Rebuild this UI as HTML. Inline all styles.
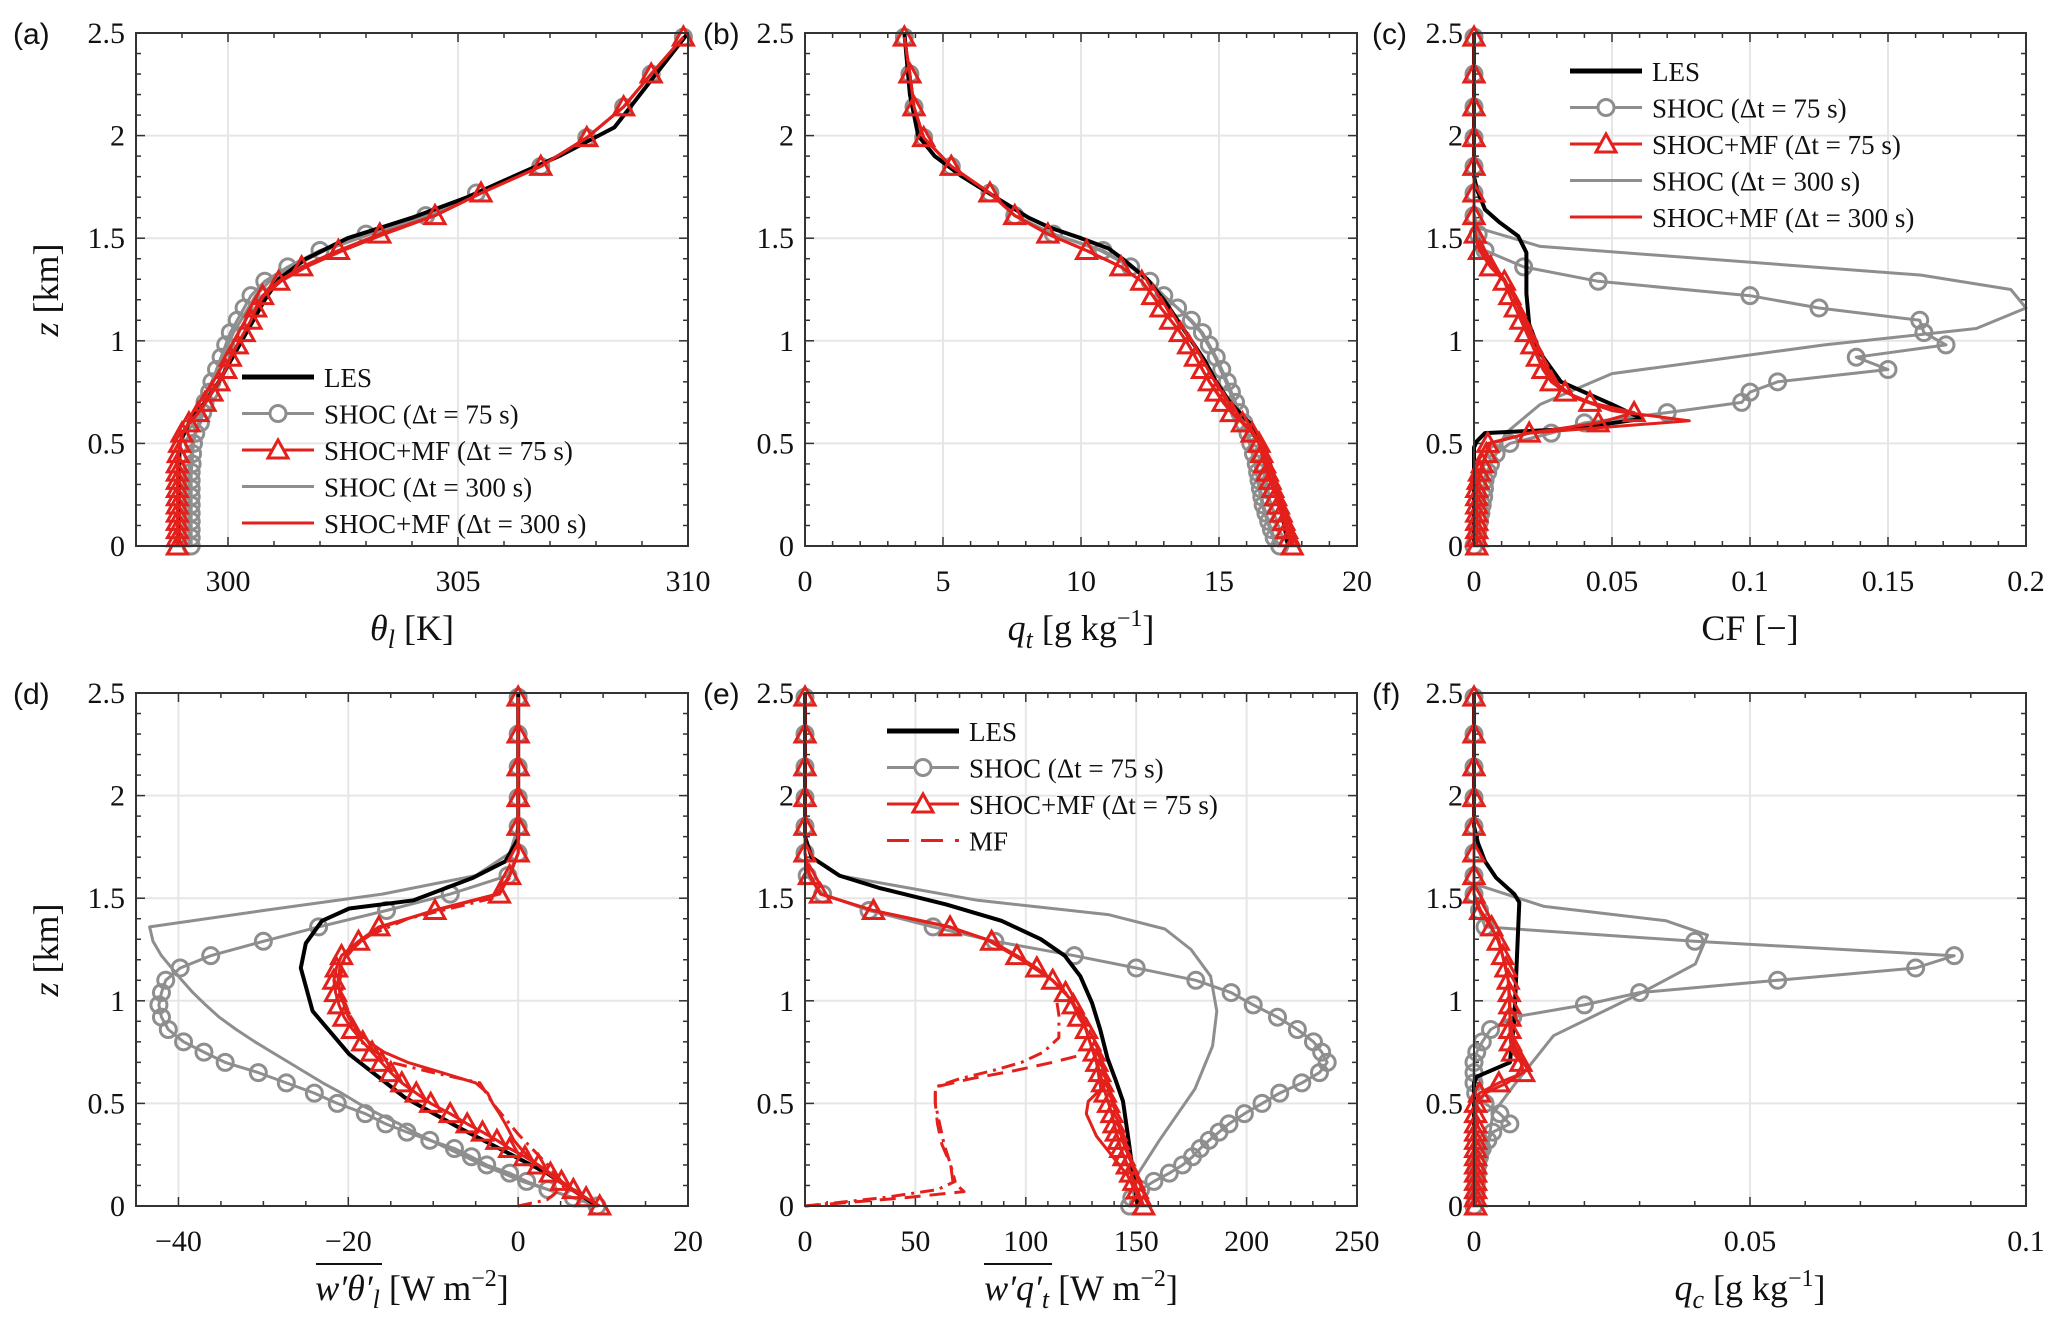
<!DOCTYPE html>
<html><head><meta charset="utf-8"><style>
html,body{margin:0;padding:0;background:#fff;}
svg{display:block;}
text{font-family:"Liberation Serif",serif;fill:#111;}
.tick{font-size:30px;}
.lab{font-size:36px;}
.leg{font-size:27px;}
.pl{font-family:"Liberation Sans",sans-serif;font-size:30px;}
</style></head><body>
<svg id="fig" width="2067" height="1333" viewBox="0 0 2067 1333" xmlns="http://www.w3.org/2000/svg"></svg>
<script>
// shared model vertical grid (km)
const zGrid=[0,0.04,0.08,0.12,0.16,0.2,0.24,0.28,0.32,0.36,0.4,0.45,0.5,0.55,0.6,0.65,0.7,0.75,0.8,0.86,0.92,0.98,1.04,1.1,1.16,1.22,1.29,1.36,1.44,1.52,1.61,1.72,1.85,1.99,2.14,2.3,2.48];

// (a) theta_l
const aMf75=[298.9,298.9,298.9,298.9,298.9,298.9,298.9,298.9,298.9,298.9,298.9,298.92,298.95,299.0,299.15,299.35,299.5,299.65,299.8,299.95,300.05,300.2,300.35,300.5,300.6,300.75,301.1,301.6,302.4,303.3,304.5,305.5,306.8,307.8,308.6,309.2,309.9];
const aShoc75=[299.2,299.2,299.2,299.2,299.2,299.2,299.2,299.2,299.2,299.2,299.22,299.23,299.25,299.3,299.4,299.45,299.5,299.6,299.65,299.75,299.85,299.95,300.05,300.2,300.35,300.5,300.8,301.3,302.0,303.0,304.3,305.4,306.8,307.8,308.6,309.2,309.9];
const aShoc300=[299.15,299.15,299.15,299.15,299.15,299.15,299.15,299.15,299.15,299.15,299.17,299.2,299.22,299.28,299.36,299.42,299.5,299.58,299.66,299.76,299.88,300.0,300.12,300.28,300.44,300.6,300.9,301.4,302.1,303.1,304.4,305.4,306.8,307.8,308.6,309.2,309.9];
const aMf300=[298.9,298.9,298.9,298.9,298.9,298.9,298.9,298.9,298.9,298.9,298.9,298.92,298.96,299.02,299.17,299.36,299.52,299.66,299.8,299.95,300.06,300.2,300.35,300.5,300.62,300.78,301.15,301.7,302.5,303.4,304.5,305.5,306.8,307.8,308.6,309.2,309.9];
const aLesZ=[0,0.5,0.6,0.7,0.8,0.9,1.0,1.1,1.2,1.3,1.4,1.5,1.6,1.7,1.8,1.9,2.04,2.5];
const aLesX=[298.9,298.95,299.15,299.5,299.8,300.05,300.3,300.55,300.8,301.1,301.7,302.6,304.0,305.2,306.2,307.2,308.4,310];

// (b) q_t
const bMf75=[17.65,17.55,17.45,17.35,17.25,17.15,17.05,16.95,16.85,16.75,16.65,16.55,16.45,16.2,15.85,15.45,15.15,14.9,14.65,14.4,14.15,13.9,13.6,13.25,12.9,12.6,12.2,11.45,10.2,8.8,7.6,6.7,5.3,4.3,3.95,3.8,3.6];
const bShoc75=[17.2,17.0,16.9,16.8,16.7,16.6,16.55,16.5,16.45,16.4,16.35,16.25,16.15,16.05,15.9,15.75,15.6,15.45,15.3,15.1,14.9,14.65,14.4,14.0,13.5,13.0,12.5,11.8,10.8,9.0,7.6,6.7,5.3,4.3,3.95,3.8,3.6];
const bShoc300=[17.1,16.95,16.85,16.75,16.65,16.57,16.5,16.45,16.4,16.35,16.3,16.2,16.1,16.0,15.85,15.7,15.55,15.4,15.25,15.05,14.85,14.6,14.35,13.95,13.5,13.0,12.5,11.8,10.7,9.0,7.6,6.7,5.3,4.3,3.95,3.8,3.6];
const bMf300=[17.7,17.6,17.5,17.4,17.3,17.2,17.1,17.0,16.9,16.8,16.7,16.6,16.5,16.25,15.9,15.5,15.2,14.92,14.66,14.4,14.15,13.9,13.6,13.25,12.9,12.6,12.2,11.45,10.2,8.8,7.6,6.7,5.3,4.3,3.95,3.8,3.6];
const bLesZ=[0,0.3,0.5,0.6,0.7,0.8,0.9,1.0,1.1,1.2,1.3,1.4,1.45,1.5,1.55,1.6,1.7,1.8,1.9,2.0,2.2,2.5];
const bLesX=[17.5,17.1,16.6,16.1,15.4,14.9,14.5,14.0,13.5,13.0,12.4,11.5,11.0,10.0,8.9,8.1,6.9,5.7,4.7,4.1,3.8,3.6];

// (c) cloud fraction
const cShoc75=[0,0.001,0.0015,0.002,0.0025,0.003,0.0035,0.0038,0.004,0.005,0.006,0.008,0.013,0.028,0.04,0.07,0.097,0.1,0.11,0.15,0.1385,0.171,0.163,0.1615,0.125,0.1,0.045,0.018,0.004,0.0015,0,0,0,0,0,0,0];
const cMf75=[0.001,0.001,0.001,0.001,0.001,0.001,0.001,0.001,0.0015,0.002,0.003,0.0045,0.005,0.02,0.045,0.058,0.042,0.033,0.028,0.025,0.023,0.021,0.019,0.017,0.015,0.013,0.011,0.006,0.002,0.0005,0,0,0,0,0,0,0];
const cShoc300Z=[0,0.34,0.55,0.69,0.84,0.98,1.06,1.16,1.25,1.32,1.46,1.55,1.62,2.5];
const cShoc300X=[0.001,0.004,0.0115,0.024,0.05,0.127,0.182,0.2,0.1945,0.162,0.024,0.0015,0,0];
const cMf300Z=[0,0.3,0.43,0.5,0.55,0.61,0.66,0.72,0.8,0.9,1.0,1.1,1.2,1.3,1.4,1.48,1.55,2.5];
const cMf300X=[0.001,0.001,0.004,0.006,0.02,0.078,0.05,0.037,0.029,0.024,0.021,0.018,0.015,0.011,0.005,0.001,0,0];
const cLesZ=[0,0.48,0.51,0.55,0.57,0.62,0.69,0.8,0.94,1.08,1.23,1.43,1.51,1.58,1.64,1.74,1.8,2.5];
const cLesX=[0,0,0.001,0.004,0.035,0.061,0.05,0.0315,0.024,0.02,0.019,0.019,0.016,0.009,0.004,0.001,0,0];

// (d) w'theta_l'
const dShoc75=[9.3,6.5,3.5,1,-1,-3.7,-5.5,-7.5,-10.4,-13.1,-15.6,-18,-21.3,-24,-27.3,-30.6,-34.5,-37,-39.4,-41.2,-42,-42.3,-42,-41.5,-39.8,-36.2,-30,-23.5,-15.5,-8,-1.2,0,0,0,0,0,0];
const dMf75=[9.6,8,6.5,5.1,3.8,2.4,0.8,-1,-2.5,-4.2,-6,-8,-10.3,-12,-13.7,-15,-16.1,-17.2,-18.3,-19.5,-20.5,-21.1,-21.5,-21.7,-21.4,-20.8,-18.8,-16.4,-9.8,-2.2,-1,0,0,0,0,0,0];
const dShoc300=[9.3,6.5,3.5,0.5,-1.8,-4.2,-6.2,-8.3,-10.3,-12.3,-14,-16.5,-18.8,-20.8,-23,-25,-27,-29,-31,-33.2,-35.2,-36.8,-38.3,-39.6,-40.8,-42,-43,-43.4,-30,-16,-5,-1,0,0,0,0,0];
const dMf300=[9.6,7.9,6.2,4.8,3.5,2.3,1.2,0.3,-0.5,-1,-1.5,-2.2,-3,-3.6,-5,-9,-13,-15.8,-17.6,-19,-20,-20.5,-21,-21.2,-21,-20.3,-18.5,-16,-10,-2.5,-1,0,0,0,0,0,0];
const dLesZ=[0,0.16,0.38,0.53,0.74,0.95,1.16,1.28,1.39,1.45,1.49,1.6,1.68,1.79,2.5];
const dLesX=[9.3,3.4,-6.9,-13.4,-19.9,-24.2,-25.6,-25,-23.1,-19.9,-12.3,-5.3,-1.5,0,0];
const dMfZ=[0,0.03,0.1,0.2,0.35,0.5,0.6,0.65,0.7,0.8,0.9,1.0,1.1,1.2,1.3,1.4,1.5,1.6];
const dMfX=[0,3.4,5.5,3.5,0,-3,-4.5,-10,-15,-18.5,-19.5,-20.5,-21,-20.5,-18.5,-13,-3,-1];

// (e) w'q_t'
const eShoc75=[147,148,152,158,165,171,175.5,179,183,187.5,192,199,207,215,225,233,236.5,234,230.3,223,214,203,193,177,150,122,86,58,29,8,1,0,0,0,0,0,0];
const eMf75=[153.4,152,150.5,149,147.5,146,144.5,143,142,141,140,139,137.5,136,134.8,133.5,132.2,131,129,127.5,124,121.5,118,112.2,105,96,84.5,65.7,31,7,2,0,0,0,0,0,0];
const eShoc300Z=[0,0.11,0.32,0.57,0.78,0.95,1.12,1.25,1.35,1.42,1.49,1.61,1.7,1.8,2.5];
const eShoc300X=[150.7,148,160.5,176.6,184.6,186.5,183.7,174.8,163,137.3,78.2,15.6,3,0,0];
const eMf300Z=[0,0.15,0.34,0.45,0.51,0.57,0.7,0.8,0.9,1.0,1.1,1.2,1.3,1.36,1.44,1.52,1.62,1.72,2.5];
const eMf300X=[153,146,132,127.4,128.3,134,132,129,126,121,112,98,82,65,31,7,2,0,0];
const eLesZ=[0,0.36,0.51,0.61,0.72,0.86,0.99,1.12,1.22,1.3,1.39,1.47,1.55,1.61,1.7,1.8,2.5];
const eLesX=[150.7,146,144,140.8,137,133.7,130,124.7,117.6,106.8,89,63.9,33.5,15.6,3,0,0];
const eMfDashZ=[0,0.04,0.07,0.12,0.2,0.3,0.4,0.5,0.58,0.62,0.66,0.7,0.73];
const eMfDashX=[0,45,72,67,66,62,60,59,59,75,95,112,123];
const eMfDotZ=[0,0.04,0.08,0.12,0.2,0.3,0.4,0.5,0.58,0.62,0.66,0.7,0.75,0.82,0.93,1.0];
const eMfDotX=[0,35,60,68,66,63,61,59,59,70,85,98,108,115,115,114];

// (f) q_c
const fShoc75=[0,0.0003,0.0005,0.0005,0.0006,0.0007,0.001,0.0015,0.0025,0.0034,0.0065,0.0047,0.002,0.0003,0,0,0,0.0005,0.0015,0.003,0.007,0.02,0.03,0.055,0.08,0.087,0.04,0.002,0.001,0,0,0,0,0,0,0,0];
const fMf75=[0.0003,0.0003,0.0003,0.0003,0.0003,0.0003,0.0003,0.0003,0.0003,0.0003,0.0003,0.0003,0.0003,0.001,0.0045,0.009,0.0085,0.007,0.0066,0.0065,0.0065,0.0065,0.0064,0.0062,0.0058,0.0052,0.0044,0.0032,0.0012,0,0,0,0,0,0,0,0];
const fShoc300Z=[0,0.29,0.45,0.59,0.83,1.04,1.18,1.32,1.39,1.46,1.57,2.5];
const fShoc300X=[0,0.0025,0.0034,0.0073,0.0144,0.0304,0.0401,0.0423,0.0348,0.0127,0,0];
const fMf300Z=[0,0.5,0.55,0.6,0.67,0.75,0.9,1.1,1.3,1.45,1.52,2.5];
const fMf300X=[0.0003,0.0003,0.002,0.006,0.01,0.0075,0.0066,0.0062,0.0045,0.0008,0,0];
const fLesZ=[0,0.6,0.63,0.7,0.91,1.23,1.48,1.52,1.6,1.68,1.77,1.85,2.5];
const fLesX=[0,0,0.0005,0.0065,0.0073,0.0078,0.0082,0.0073,0.004,0.002,0.0007,0,0];

// tick labels
const yTicks=[0,0.5,1,1.5,2,2.5];
const yTickLabels=["0","0.5","1","1.5","2","2.5"];
const aTicks=[300,305,310], aTickLabels=["300","305","310"];
const bTicks=[0,5,10,15,20], bTickLabels=["0","5","10","15","20"];
const cTicks=[0,0.05,0.1,0.15,0.2], cTickLabels=["0","0.05","0.1","0.15","0.2"];
const dTicks=[-40,-20,0,20], dTickLabels=["-40","-20","0","20"];
const eTicks=[0,50,100,150,200,250], eTickLabels=["0","50","100","150","200","250"];
const fTicks=[0,0.05,0.1], fTickLabels=["0","0.05","0.1"];

const NS="http://www.w3.org/2000/svg";
const svg=document.getElementById('fig');
const GRAY="#8e8e8e", RED="#e3201b", BLACK="#000";
function mk(tag,attrs,parent){const e=document.createElementNS(NS,tag);for(const k in attrs)e.setAttribute(k,attrs[k]);(parent||svg).appendChild(e);return e;}

function panel(name,L,T,xmin,xmax,xt,xtl,xminor,letter){
  const W=552,H=513;
  const g=mk('g',{});
  
  
  const sx=v=>L+(v-xmin)/(xmax-xmin)*W;
  const sy=v=>T+H-(v/2.5)*H;
  const grid=mk('g',{},g);
  
  
  xt.forEach(v=>{const x=sx(v);if(x>L+1&&x<L+W-1)mk('line',{x1:x,x2:x,y1:T,y2:T+H,stroke:'#e6e6e6','stroke-width':2},grid);});
  yTicks.forEach(v=>{const y=sy(v);if(y>T+1&&y<T+H-1)mk('line',{x1:L,x2:L+W,y1:y,y2:y,stroke:'#e6e6e6','stroke-width':2},grid);});
  const tk=mk('g',{stroke:'#333','stroke-width':1.5},g);
  
  
  for(let v=xmin;v<=xmax+1e-9;v+=xminor){const x=sx(v);const maj=xt.some(t=>Math.abs(t-v)<1e-9);const l=maj?9:5;
    mk('line',{x1:x,x2:x,y1:T+H,y2:T+H-l},tk);mk('line',{x1:x,x2:x,y1:T,y2:T+l},tk);}
  for(let v=0;v<=2.5+1e-9;v+=0.1){const y=sy(v);const maj=Math.abs(v*2-Math.round(v*2))<1e-6;const l=maj?9:5;
    mk('line',{x1:L,x2:L+l,y1:y,y2:y},tk);mk('line',{x1:L+W,x2:L+W-l,y1:y,y2:y},tk);}
  xt.forEach((v,i)=>{const t=mk('text',{x:sx(v),y:T+H+45,'text-anchor':'middle',class:'tick'},g);t.textContent=xtl[i].replace('-','\u2212');
    
    });
  yTicks.forEach((v,i)=>{const t=mk('text',{x:L-11,y:sy(v)+10,'text-anchor':'end',class:'tick'},g);t.textContent=yTickLabels[i];
    
    });
  const pl=mk('text',{x:(L<200?13:L-102),y:T+11,class:'pl'},g);
  pl.textContent='('+letter+')';
  
  
  const cp=mk('clipPath',{id:'clip-'+name},g);
  mk('rect',{x:L-14,y:T-14,width:W+28,height:H+28},cp);
  const plot=mk('g',{'clip-path':'url(#clip-'+name+')'},g);
  
  
  mk('rect',{x:L,y:T,width:W,height:H,fill:'none',stroke:'#333','stroke-width':2},g);
  return {g,plot,sx,sy,L,T,W,H};
}
function line(P,zs,xs,color,w,dash,nm){
  const pts=zs.map((z,i)=>P.sx(xs[i]).toFixed(1)+','+P.sy(z).toFixed(1)).join(' ');
  const a={points:pts,fill:'none',stroke:color,'stroke-width':w,'stroke-linejoin':'round'};
  if(dash)a['stroke-dasharray']=dash;
  const p=mk('polyline',a,P.plot);
  
  
}
function circles(P,zs,xs,nm){
  const g=mk('g',{},P.plot);
  
  
  zs.forEach((z,i)=>mk('circle',{cx:P.sx(xs[i]),cy:P.sy(z),r:8,fill:'none',stroke:GRAY,'stroke-width':3},g));
}
function tris(P,zs,xs,nm){
  const g=mk('g',{},P.plot);
  
  
  zs.forEach((z,i)=>{const x=P.sx(xs[i]),y=P.sy(z);
    mk('polygon',{points:`${x},${y-10} ${x-10},${y+8} ${x+10},${y+8}`,fill:'none',stroke:RED,'stroke-width':3},g);});
}
function std(P,shoc75,mf75,shoc300Z,shoc300X,mf300Z,mf300X,lesZ,lesX){
  line(P,shoc300Z,shoc300X,GRAY,3,null,'shoc-300-line');
  line(P,zGrid,shoc75,GRAY,3,null,'shoc-75-line');
  circles(P,zGrid,shoc75,'shoc-75-markers');
  line(P,lesZ,lesX,BLACK,4,null,'les-line');
  line(P,mf300Z,mf300X,RED,3,null,'shoc-mf-300-line');
  line(P,zGrid,mf75,RED,3,null,'shoc-mf-75-line');
  tris(P,zGrid,mf75,'shoc-mf-75-markers');
}
function legend(x,y,items,nm){
  const g=mk('g',{});
  
  
  items.forEach((it,i)=>{const yy=y+i*36.5;
    const a={x1:x,x2:x+72,y1:yy,y2:yy,stroke:it.c,'stroke-width':it.w};
    if(it.d)a['stroke-dasharray']=it.d;
    mk('line',a,g);
    if(it.m==='o')mk('circle',{cx:x+36,cy:yy,r:8,fill:'#fff',stroke:GRAY,'stroke-width':3},g);
    if(it.m==='t')mk('polygon',{points:`${x+36},${yy-10} ${x+26},${yy+8} ${x+46},${yy+8}`,fill:'#fff',stroke:RED,'stroke-width':3},g);
    const t=mk('text',{x:x+82,y:yy+10,class:'leg'},g);t.textContent=it.t;
    
    
  });
}
const L5=[{t:'LES',c:BLACK,w:5},{t:'SHOC (\u0394t = 75 s)',c:GRAY,w:3,m:'o'},{t:'SHOC+MF (\u0394t = 75 s)',c:RED,w:3,m:'t'},{t:'SHOC (\u0394t = 300 s)',c:GRAY,w:3},{t:'SHOC+MF (\u0394t = 300 s)',c:RED,w:3}];

const C=[136,805,1474], R=[33,693];
const Pa=panel('a',C[0],R[0],298,310,aTicks,aTickLabels,1,'a');
std(Pa,aShoc75,aMf75,zGrid,aShoc300,zGrid,aMf300,aLesZ,aLesX);
const Pb=panel('b',C[1],R[0],0,20,bTicks,bTickLabels,1,'b');
std(Pb,bShoc75,bMf75,zGrid,bShoc300,zGrid,bMf300,bLesZ,bLesX);
const Pc=panel('c',C[2],R[0],0,0.2,cTicks,cTickLabels,0.01,'c');
std(Pc,cShoc75,cMf75,cShoc300Z,cShoc300X,cMf300Z,cMf300X,cLesZ,cLesX);
const Pd=panel('d',C[0],R[1],-45,20,dTicks,dTickLabels,5,'d');
std(Pd,dShoc75,dMf75,zGrid,dShoc300,zGrid,dMf300,dLesZ,dLesX);
line(Pd,dMfZ,dMfX,RED,3,'14,6,3,6','mf-dashdot-line');
const Pe=panel('e',C[1],R[1],0,250,eTicks,eTickLabels,10,'e');
line(Pe,eMfDashZ,eMfDashX,RED,3,'16,9','mf-75-dashed-line');
line(Pe,eMfDotZ,eMfDotX,RED,3,'14,6,3,6','mf-300-dashdot-line');
std(Pe,eShoc75,eMf75,eShoc300Z,eShoc300X,eMf300Z,eMf300X,eLesZ,eLesX);
const Pf=panel('f',C[2],R[1],0,0.1,fTicks,fTickLabels,0.01,'f');
std(Pf,fShoc75,fMf75,fShoc300Z,fShoc300X,fMf300Z,fMf300X,fLesZ,fLesX);

legend(242,377,L5,'legend-a');
legend(1570,71,L5,'legend-c');
legend(887,731,[L5[0],L5[1],L5[2],{t:'MF',c:RED,w:3,d:'22,12'}],'legend-e');

function ylab(x,cy){const t=mk('text',{x:0,y:0,class:'lab',transform:`translate(${x},${cy}) rotate(-90)`,'text-anchor':'middle'});
  t.innerHTML='<tspan font-style="italic">z</tspan> [km]';
  
  }
ylab(58,290);ylab(58,950);
function xlab(cx,y,html,nm){const t=mk('text',{x:cx,y:y,class:'lab','text-anchor':'middle'});t.innerHTML=html;
  
  return t;}
xlab(412,640,'<tspan font-style="italic">θ</tspan><tspan font-style="italic" font-size="26" dy="8">l</tspan><tspan dy="-8"> [K]</tspan>','x-axis-title-a');
xlab(1081,640,'<tspan font-style="italic">q</tspan><tspan font-style="italic" font-size="26" dy="8">t</tspan><tspan dy="-8"> [g kg</tspan><tspan font-size="24" dy="-14">−1</tspan><tspan dy="14">]</tspan>','x-axis-title-b');
xlab(1750,640,'CF [−]','x-axis-title-c');
xlab(412,1300,'<tspan font-style="italic">w′θ′</tspan><tspan font-style="italic" font-size="26" dy="8">l</tspan><tspan dy="-8"> [W m</tspan><tspan font-size="24" dy="-14">−2</tspan><tspan dy="14">]</tspan>','x-axis-title-d');
xlab(1081,1300,'<tspan font-style="italic">w′q′</tspan><tspan font-style="italic" font-size="26" dy="8">t</tspan><tspan dy="-8"> [W m</tspan><tspan font-size="24" dy="-14">−2</tspan><tspan dy="14">]</tspan>','x-axis-title-e');
xlab(1750,1300,'<tspan font-style="italic">q</tspan><tspan font-style="italic" font-size="26" dy="8">c</tspan><tspan dy="-8"> [g kg</tspan><tspan font-size="24" dy="-14">−1</tspan><tspan dy="14">]</tspan>','x-axis-title-f');
const o1=mk('line',{x1:316,x2:382,y1:1264,y2:1264,stroke:'#111','stroke-width':2});


const o2=mk('line',{x1:984,x2:1052,y1:1264,y2:1264,stroke:'#111','stroke-width':2});


</script>
</body></html>
